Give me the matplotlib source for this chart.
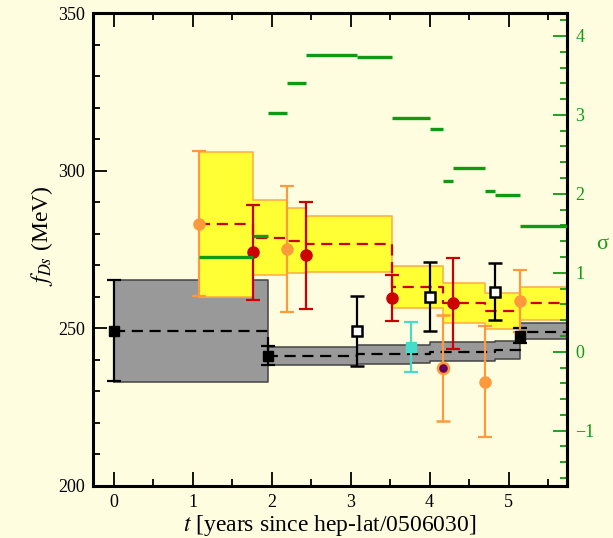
import numpy as np
import matplotlib
matplotlib.use("Agg")
import matplotlib.pyplot as plt
from matplotlib.ticker import MultipleLocator

plt.rcParams['font.family'] = ['Liberation Serif', 'DejaVu Serif']
plt.rcParams['mathtext.fontset'] = 'stix'

# averaged lattice results (grey band) -- steps start at these times
grey_t = [0.0, 1.95, 3.08, 3.77, 4.0, 4.83, 5.15]
grey_mid = [249.2, 241.3, 241.8, 242.0, 242.6, 243.1, 248.9]
grey_lo = [233.0, 238.3, 238.7, 238.9, 239.6, 240.2, 246.5]
grey_hi = [265.3, 244.2, 244.6, 244.8, 245.6, 246.1, 251.8]

# averaged experimental results (yellow band)
yel_t = [1.085, 1.765, 2.195, 2.43, 3.52, 4.165, 4.705, 5.15]
yel_mid = [283.1, 278.8, 277.8, 276.7, 263.2, 257.9, 255.5, 257.9]
yel_lo = [260.0, 266.9, 267.5, 268.0, 256.4, 251.6, 249.7, 252.6]
yel_hi = [306.0, 290.7, 288.1, 285.5, 269.9, 264.3, 261.1, 263.0]

t_end = 5.74

# individual results
lat_full_t = [0.0, 1.95, 5.15]
lat_full_f = [249.2, 241.3, 247.7]
lat_full_e = [16.0, 3.0, 2.5]

lat_open_t = [3.08, 4.0, 4.83]
lat_open_f = [249.2, 260.0, 261.6]
lat_open_e = [11.0, 11.0, 9.0]

lat_cyan_t = [3.77]
lat_cyan_f = [244.0]
lat_cyan_e = [8.0]

exp_red_t = [1.765, 2.43, 3.52, 4.30]
exp_red_f = [274.1, 273.2, 259.6, 257.9]
exp_red_e = [15.0, 17.0, 7.4, 14.3]

exp_orange_t = [1.085, 2.195, 4.705, 5.15]
exp_orange_f = [283.1, 275.2, 233.1, 258.7]
exp_orange_e = [23.0, 20.0, 17.7, 9.9]

exp_purple_t = [4.165]
exp_purple_f = [237.4]
exp_purple_e = [16.8]

# tension between the two averages, in sigma
sig_start = [1.085, 1.765, 1.95, 2.195, 2.43, 3.08, 3.52, 4.0, 4.165, 4.30, 4.705, 4.83, 5.15]
sig_val = [1.20, 1.47, 3.03, 3.41, 3.76, 3.73, 2.96, 2.82, 2.16, 2.33, 2.04, 1.98, 1.59]

bg = '#FFFDE0'
green = '#119911'
orange = '#FF9A3C'
red = '#CC0000'


def band(ax, t, mid, lo, hi, fill, edge, dash, z):
    x = np.append(t, t_end)
    lo_s = np.append(lo, lo[-1])
    hi_s = np.append(hi, hi[-1])
    mid_s = np.append(mid, mid[-1])
    ax.fill_between(x, lo_s, hi_s, step='post', color=fill, lw=0, zorder=z)
    ax.step(x, hi_s, where='post', color=edge, lw=1.1, zorder=z + 0.1)
    ax.step(x, lo_s, where='post', color=edge, lw=1.1, zorder=z + 0.1)
    ax.plot([x[0], x[0]], [lo[0], hi[0]], color=edge, lw=1.1, zorder=z + 0.1)
    ax.step(x, mid_s, where='post', color=dash, lw=1.6, ls=(0, (5, 3)), zorder=z + 0.2)


fig = plt.figure(figsize=(6.13, 5.38), dpi=100, facecolor=bg)
ax = fig.add_axes([0.1517, 0.0967, 0.7733, 0.8791])
ax.set_facecolor(bg)

band(ax, grey_t, grey_mid, grey_lo, grey_hi, '#999999', '#444444', 'black', 1)
band(ax, yel_t, yel_mid, yel_lo, yel_hi, '#FFFF33', '#FFAA44', red, 2)

eb = dict(capsize=5, elinewidth=1.6, capthick=1.6, ls='none', zorder=5)
ax.errorbar(lat_full_t, lat_full_f, yerr=lat_full_e, fmt='s', color='black', ms=7, **eb)
ax.errorbar(lat_open_t, lat_open_f, yerr=lat_open_e, fmt='s', color='black', mfc='white',
            mec='black', mew=1.8, ms=7, **eb)
ax.errorbar(lat_cyan_t, lat_cyan_f, yerr=lat_cyan_e, fmt='s', color='#44DDCC', ms=7, **eb)
ax.errorbar(exp_red_t, exp_red_f, yerr=exp_red_e, fmt='o', color=red, ms=8, **eb)
ax.errorbar(exp_orange_t, exp_orange_f, yerr=exp_orange_e, fmt='o', color=orange, ms=8, **eb)
ax.errorbar(exp_purple_t, exp_purple_f, yerr=exp_purple_e, fmt='o', color=orange, mfc='#660055',
            mec=orange, mew=1.8, ms=8, **eb)

ax.set_xlim(-0.26, t_end)
ax.set_ylim(200, 350)
ax.xaxis.set_major_locator(MultipleLocator(1))
ax.xaxis.set_minor_locator(MultipleLocator(0.5))
ax.yaxis.set_major_locator(MultipleLocator(50))
ax.yaxis.set_minor_locator(MultipleLocator(10))
ax.tick_params(which='both', direction='in', top=True, right=False, labelsize=13, pad=6)
ax.tick_params(which='major', length=10, width=1.3)
ax.tick_params(which='minor', length=5, width=1.3)
for s in ax.spines.values():
    s.set_linewidth(2.2)

ax.set_xlabel(r'$t$ [years since hep-lat/0506030]', fontsize=17, labelpad=1)
ax.set_ylabel(r'$f_{Ds}$ (MeV)', fontsize=17)
ax.yaxis.set_label_coords(-0.08, 0.53)

# sigma scale on the right
ax2 = ax.twinx()
sig_end = sig_start[1:] + [t_end]
ax2.hlines(sig_val, sig_start, sig_end, color=green, lw=2.4, zorder=3)
ax2.set_ylim(-1.70, 4.29)
ax2.yaxis.set_major_locator(MultipleLocator(1))
ax2.yaxis.set_minor_locator(MultipleLocator(0.2))
ax2.tick_params(which='both', direction='in', colors=green, labelsize=13, pad=6)
ax2.tick_params(which='major', length=10, width=1.3)
ax2.tick_params(which='minor', length=5, width=1.3)
ax2.spines['right'].set_linewidth(2.2)
ax2.set_ylabel('σ', color=green, fontsize=16, rotation=0, va='center', ha='center')
ax2.yaxis.set_label_coords(1.075, 0.51)

fig.savefig('out.png', dpi=100, facecolor=bg)
